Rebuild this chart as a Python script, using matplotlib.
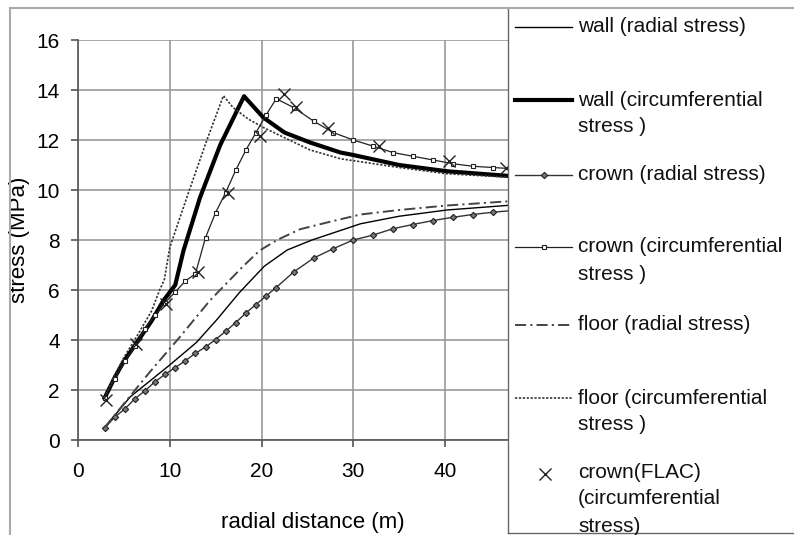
import matplotlib
matplotlib.use("Agg")
import matplotlib.pyplot as plt
from matplotlib.lines import Line2D

plt.rcParams['font.family'] = ['Liberation Sans', 'DejaVu Sans']
plt.rcParams['lines.scale_dashes'] = False

# values
wall_rad_x = [2.9, 5.7, 10.0, 12.9, 15.1, 17.6, 20.3, 22.8, 25.5, 30.8, 35.0, 40.2, 47.4]
wall_rad_y = [0.5, 1.73, 3.0, 3.9, 4.8, 5.9, 6.95, 7.6, 8.0, 8.65, 8.95, 9.2, 9.4]

wall_circ_x = [2.9, 4.0, 5.0, 6.5, 8.0, 9.3, 10.6, 11.5, 13.3, 15.5, 18.1, 20.2, 22.5, 25.3, 28.6, 30.0, 35.0, 40.2, 47.4]
wall_circ_y = [1.68, 2.5, 3.15, 3.95, 4.75, 5.57, 6.2, 7.58, 9.7, 11.8, 13.75, 12.9, 12.3, 11.9, 11.5, 11.4, 11.0, 10.75, 10.55]

crown_x = [2.9, 4.0, 5.1, 6.2, 7.3, 8.4, 9.5, 10.6, 11.7, 12.8, 13.9, 15.0, 16.1, 17.2, 18.3,
           19.4, 20.5, 21.6, 23.5, 25.7, 27.8, 30.0, 32.2, 34.3, 36.5, 38.7, 40.9, 43.0, 45.2, 47.4]
crown_rad_y = [0.47, 0.92, 1.24, 1.65, 1.97, 2.33, 2.63, 2.9, 3.17, 3.47, 3.72, 4.02, 4.35, 4.7, 5.08,
               5.42, 5.76, 6.1, 6.72, 7.28, 7.65, 8.0, 8.2, 8.45, 8.62, 8.78, 8.91, 9.02, 9.11, 9.18]
crown_circ_y = [1.7, 2.45, 3.15, 3.75, 4.45, 5.0, 5.5, 5.92, 6.36, 6.65, 8.1, 9.1, 9.9, 10.8, 11.6,
                12.3, 13.0, 13.65, 13.3, 12.75, 12.3, 12.0, 11.75, 11.5, 11.35, 11.2, 11.05, 10.95, 10.9, 10.85]

floor_rad_x = [2.9, 5.0, 7.85, 11.1, 14.4, 18.0, 19.8, 21.7, 24.2, 27.8, 30.8, 35.0, 40.2, 47.4]
floor_rad_y = [0.5, 1.45, 2.73, 4.12, 5.59, 6.95, 7.58, 8.0, 8.43, 8.76, 9.02, 9.2, 9.38, 9.56]

floor_circ_x = [2.9, 4.0, 5.0, 6.5, 8.0, 8.9, 9.4, 10.0, 12.0, 14.0, 15.85, 16.9, 18.5, 20.2, 25.3, 28.6, 35.0, 40.2, 47.4]
floor_circ_y = [1.68, 2.6, 3.3, 4.2, 5.15, 6.0, 6.4, 7.7, 9.85, 11.95, 13.77, 13.3, 12.85, 12.5, 11.6, 11.25, 10.9, 10.65, 10.5]

flac_x = [3.1, 6.3, 9.55, 13.1, 16.3, 19.8, 22.4, 23.8, 27.3, 32.8, 40.4, 46.6]
flac_y = [1.62, 3.83, 5.43, 6.72, 9.88, 12.18, 13.84, 13.33, 12.5, 11.75, 11.18, 10.9]

labels = ["wall (radial stress)", "wall (circumferential\nstress )", "crown (radial stress)",
          "crown (circumferential\nstress )", "floor (radial stress)", "floor (circumferential\nstress )",
          "crown(FLAC)\n(circumferential\nstress)"]

styles = [
    dict(color='black', lw=1.0),
    dict(color='black', lw=3.0),
    dict(color='#333333', lw=1.0, marker='D', ms=3.2, mfc='#777777', mec='#222222', mew=0.8),
    dict(color='#222222', lw=0.9, marker='s', ms=3.2, mfc='white', mec='#222222', mew=0.8),
    dict(color='#444444', lw=1.4, ls=(0, (8, 3, 1.5, 3))),
    dict(color='#333333', lw=1.2, ls=(0, (1.6, 1.2))),
    dict(color='#222222', lw=0, ls='none', marker='x', ms=9, mew=1.0),
]
series = [(wall_rad_x, wall_rad_y), (wall_circ_x, wall_circ_y), (crown_x, crown_rad_y),
          (crown_x, crown_circ_y), (floor_rad_x, floor_rad_y), (floor_circ_x, floor_circ_y),
          (flac_x, flac_y)]

W, H = 794, 535
fig = plt.figure(figsize=(W / 100, H / 100), dpi=100)
ax = fig.add_axes([78 / W, 1 - 440 / H, 430 / W, 400 / H])

for (xs, ys), st in zip(series, styles):
    ax.plot(xs, ys, **st)

ax.set_xlim(0, 430 / 9.175)
ax.set_ylim(0, 16)
ax.set_xticks([0, 10, 20, 30, 40])
ax.set_yticks(range(0, 17, 2))
ax.grid(True, color='#999999', lw=1.2)
ax.set_axisbelow(True)
for s in ['top', 'right']:
    ax.spines[s].set_visible(False)
for s in ['left', 'bottom']:
    ax.spines[s].set_color('#555555')
    ax.spines[s].set_linewidth(1.2)
ax.tick_params(direction='out', length=5, width=1.2, color='#555555', labelsize=15, pad=8)
ax.tick_params(axis='x', pad=11)
ax.set_xlabel("radial distance (m)", fontsize=16)
ax.xaxis.set_label_coords(0.547, -0.18)
ax.set_ylabel("stress (MPa)", fontsize=16)
ax.yaxis.set_label_coords(-0.112, 0.5)

# legend box drawn by hand, Excel style
lax = fig.add_axes([508 / W, 1 - 533 / H, 286 / W, 525 / H])
lax.set_xlim(0, 286)
lax.set_ylim(525, 0)
lax.set_xticks([])
lax.set_yticks([])
lax.spines['right'].set_visible(False)
lax.spines['top'].set_visible(False)
for s in ['left', 'bottom']:
    lax.spines[s].set_color('#666666')
    lax.spines[s].set_linewidth(1.0)

entry_y = [19, 92, 167, 239, 317, 390, 464]
for lab, st, yy in zip(labels, styles, entry_y):
    if st.get('marker') == 'x':
        lax.plot([37], [yy + 2], **st)
    else:
        lax.plot([7, 35.5, 64], [yy, yy, yy], markevery=[1], **st)
    for k, line in enumerate(lab.split("\n")):
        lax.text(70, yy + k * 27, line, fontsize=15, va='center', ha='left', color='#111111')

# outer chart frame
fig.add_artist(Line2D([10 / W, 1], [1 - 8 / H, 1 - 8 / H], transform=fig.transFigure, color='#aaaaaa', lw=1.5))
fig.add_artist(Line2D([10 / W, 10 / W], [0, 1 - 8 / H], transform=fig.transFigure, color='#aaaaaa', lw=1.5))

fig.savefig("out.png", dpi=100)
